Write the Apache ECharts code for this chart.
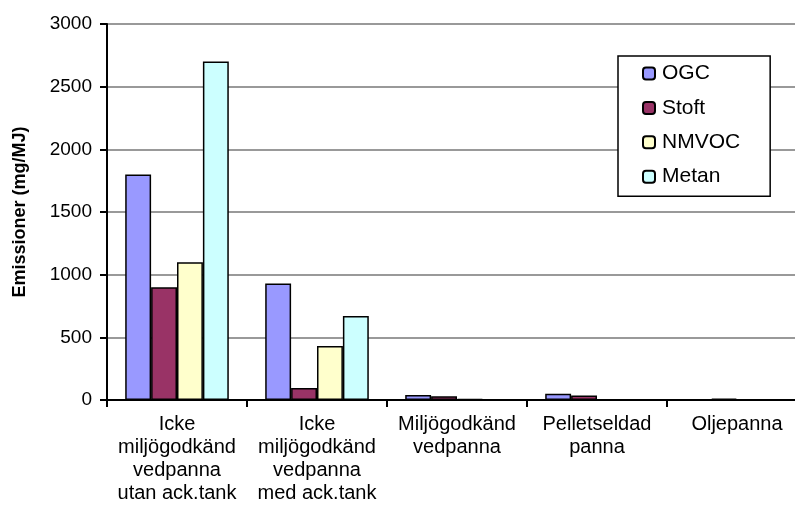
<!DOCTYPE html>
<html><head><meta charset="utf-8">
<script src="https://cdn.jsdelivr.net/npm/echarts@6/dist/echarts.min.js"></script>
<style>html,body{margin:0;padding:0;background:#fff;overflow:hidden;width:795px;height:514px}#c{width:812px;height:514px}</style>
</head><body><div id="c"></div>
<script>
const categories = ["Icke\nmiljögodkänd\nvedpanna\nutan ack.tank", "Icke\nmiljögodkänd\nvedpanna\nmed ack.tank", "Miljögodkänd\nvedpanna", "Pelletseldad\npanna", "Oljepanna"];
const seriesNames = ["OGC", "Stoft", "NMVOC", "Metan"];
const ogc = [1800, 930, 40, 50, 0];
const stoft = [900, 95, 30, 35, 10];
const nmvoc = [1100, 430, 8, 5, 2];
const metan = [2700, 670, 5, 5, 2];
const colors = ["#9999FF", "#993366", "#FFFFCC", "#CCFFFF"];
const yTicks = [0, 500, 1000, 1500, 2000, 2500, 3000];

const font = "Liberation Sans, Arial, sans-serif";
const chart = echarts.init(document.getElementById('c'), null, {renderer: 'canvas'});
const values = [ogc, stoft, nmvoc, metan];
chart.setOption({
  animation: false,
  textStyle: {fontFamily: font, color: '#000'},
  grid: {left: 107, top: 24, bottom: 114, right: 5, containLabel: false},
  legend: {
    orient: 'vertical', left: 618, top: 56,
    padding: [7, 30, 9, 24],
    itemWidth: 12, itemHeight: 12, itemGap: 13.4,
    borderColor: '#000', borderWidth: 1.5, backgroundColor: '#fff',
    textStyle: {fontFamily: font, fontSize: 21, lineHeight: 21, color: '#000', padding: [0, 0, 0, 2]},
    data: seriesNames
  },
  xAxis: {
    type: 'category', data: categories,
    axisLine: {lineStyle: {color: '#000', width: 2}},
    axisTick: {show: true, length: 7, lineStyle: {color: '#000', width: 2}},
    axisLabel: {fontFamily: font, fontSize: 20, color: '#000', lineHeight: 23, margin: 13, interval: 0}
  },
  yAxis: {
    type: 'value', min: yTicks[0], max: yTicks[yTicks.length - 1], interval: 500,
    name: 'Emissioner (mg/MJ)', nameLocation: 'middle', nameGap: 78, nameRotate: 90,
    nameTextStyle: {fontFamily: font, fontSize: 18, fontWeight: 'bold', color: '#000'},
    axisLine: {show: true, lineStyle: {color: '#000', width: 2}},
    axisTick: {show: true, length: 7, lineStyle: {color: '#000', width: 2}},
    axisLabel: {fontFamily: font, fontSize: 19, color: '#000', margin: 15, formatter: v => String(v)},
    splitLine: {lineStyle: {color: '#999', width: 2}}
  },
  series: seriesNames.map((n, i) => ({
    name: n, type: 'bar', data: values[i],
    barGap: '0%', barCategoryGap: '26%',
    itemStyle: {color: colors[i], borderColor: '#000', borderWidth: 1.5}
  }))
});
</script></body></html>
